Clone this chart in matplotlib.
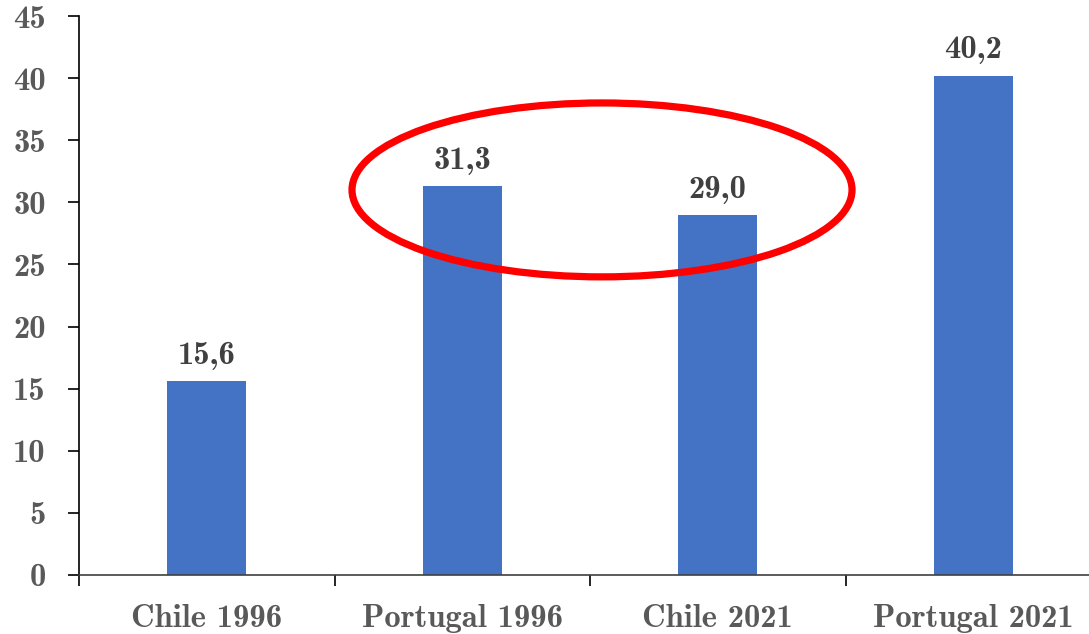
import numpy as np
import matplotlib
matplotlib.use("Agg")
import matplotlib.pyplot as plt
from matplotlib.patches import Ellipse

categories = ["Chile 1996", "Portugal 1996", "Chile 2021", "Portugal 2021"]
values = [15.6, 31.3, 29.0, 40.2]
value_labels = ["15,6", "31,3", "29,0", "40,2"]
y_ticks = [0, 5, 10, 15, 20, 25, 30, 35, 40, 45]

plt.rcParams['font.family'] = ['cmb10', 'DejaVu Sans']
plt.rcParams['axes.unicode_minus'] = False

fig = plt.figure(figsize=(10.89, 6.34), dpi=100)
ax = fig.add_axes([79/1089, 59/634, 1010/1089, 559/634])

x = np.arange(len(categories))
ax.bar(x, values, width=0.31, color='#4472C4', zorder=2)

for xi, v, lab in zip(x, values, value_labels):
    ax.text(xi, v + 0.9, lab, ha='center', va='bottom', fontsize=23.5,
            color='#404040')

ax.set_xlim(-0.5, 3.453)
ax.set_ylim(0, 45)
ax.set_yticks(y_ticks)
ax.set_yticklabels([str(t) for t in y_ticks])

ax.set_xticks(x)
ax.set_xticklabels(categories)
ax.set_xticks(np.arange(-0.5, 3.5, 1.0), minor=True)
ax.tick_params(axis='x', which='major', length=0, pad=21, labelsize=23.5,
               labelcolor='#595959')
ax.tick_params(axis='x', which='minor', length=8, width=1.2, direction='out',
               color='black')
ax.tick_params(axis='y', length=8, width=1.2, direction='out', pad=16,
               labelsize=23.5, labelcolor='#595959')

for s in ['top', 'right']:
    ax.spines[s].set_visible(False)
ax.spines['left'].set_linewidth(1.2)
ax.spines['bottom'].set_linewidth(1.2)
ax.spines['bottom'].set_color('#404040')

ell = Ellipse((1.547, 31.0), 1.957, 14.0, fill=False, edgecolor='#FF0000',
              linewidth=5.2, zorder=3, clip_on=False)
ax.add_patch(ell)

fig.savefig("out.png", dpi=100)
